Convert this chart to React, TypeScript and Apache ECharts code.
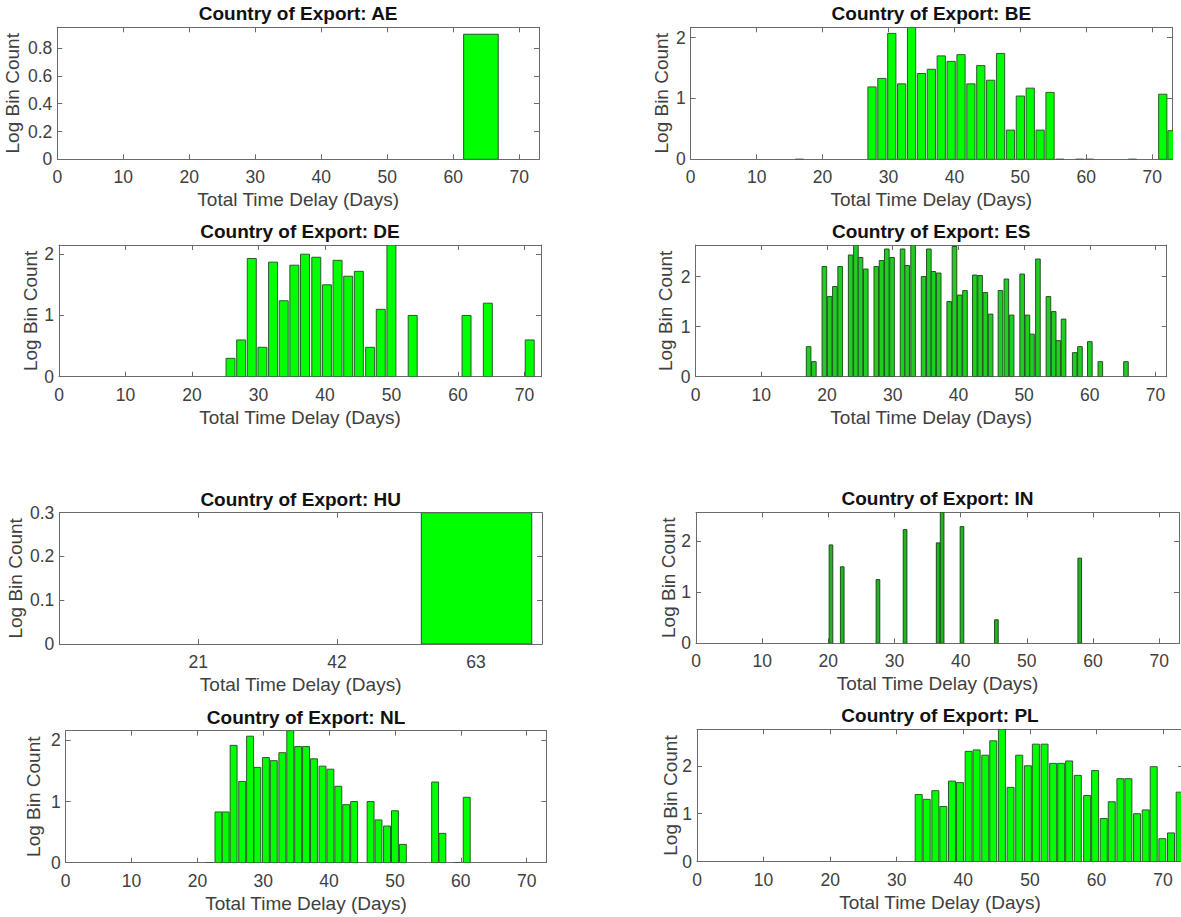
import React, { useEffect, useRef } from 'react';
import * as echarts from 'echarts';

// ---------------- data ----------------
const panelTitles = [
  'Country of Export: AE',
  'Country of Export: BE',
  'Country of Export: DE',
  'Country of Export: ES',
  'Country of Export: HU',
  'Country of Export: IN',
  'Country of Export: NL',
  'Country of Export: PL',
];

const xAxisTitle = 'Total Time Delay (Days)';
const yAxisTitle = 'Log Bin Count';

// bin centres (days) and log10 bin counts
const aeCenters = [64.2];
const aeValues = [0.9];

const beCenters = [16.5, 27.5, 29, 30.5, 32, 33.5, 35, 36.5, 38, 39.5, 41, 42.5, 44, 45.5, 47, 48.5, 50, 51.5, 53, 54.5, 56, 59, 60.5, 67, 71.6, 73];
const beValues = [0, 1.19, 1.33, 2.07, 1.24, 2.17, 1.41, 1.48, 1.70, 1.61, 1.72, 1.24, 1.54, 1.30, 1.74, 0.48, 1.04, 1.17, 0.48, 1.10, 0, 0, 0, 0, 1.07, 0.47];

const deCenters = [25.8, 27.4, 29.0, 30.6, 32.2, 33.8, 35.4, 37.0, 38.7, 40.3, 41.9, 43.5, 45.1, 46.8, 48.4, 50.0, 53.2, 61.3, 64.5, 70.8];
const deValues = [0.30, 0.60, 1.93, 0.48, 1.87, 1.24, 1.82, 2.00, 1.95, 1.50, 1.90, 1.64, 1.72, 0.48, 1.10, 2.15, 1.00, 1.00, 1.20, 0.60];

const esCenters = [17.2, 18.0, 19.6, 20.4, 21.2, 22.0, 23.6, 24.4, 25.1, 25.9, 27.5, 28.3, 29.1, 29.9, 31.5, 32.2, 33.1, 34.7, 35.5, 36.2, 37.0, 38.6, 39.4, 40.2, 41.0, 42.5, 43.3, 44.1, 44.9, 46.4, 47.3, 48.1, 49.7, 50.5, 51.2, 52.1, 53.7, 54.5, 55.2, 56.0, 57.7, 58.5, 60.0, 61.6, 65.5];
const esValues = [0.6, 0.3, 2.2, 1.6, 1.8, 2.2, 2.43, 2.63, 2.38, 2.15, 2.2, 2.32, 2.55, 2.38, 2.55, 2.22, 2.63, 2.0, 2.55, 2.1, 2.07, 1.5, 2.6, 1.63, 1.72, 2.03, 2.02, 1.68, 1.25, 1.72, 1.95, 1.23, 2.05, 1.23, 0.85, 2.35, 1.6, 1.3, 0.72, 1.15, 0.48, 0.6, 0.7, 0.3, 0.3];

const huCenters = [63.1];
const huValues = [0.3];

const inCenters = [20.4, 22.1, 27.5, 31.6, 36.6, 37.2, 40.2, 45.4, 58.0];
const inValues = [1.93, 1.50, 1.25, 2.23, 1.97, 2.57, 2.29, 0.46, 1.67];

const nlCenters = [21.8, 23.2, 24.3, 25.5, 26.8, 28.0, 29.1, 30.4, 31.6, 32.9, 34.1, 35.3, 36.5, 37.7, 39.0, 40.2, 41.4, 42.6, 43.8, 46.3, 47.5, 48.8, 50.0, 51.2, 56.1, 57.2, 59.5, 60.9];
const nlValues = [0, 0.83, 0.83, 1.92, 1.33, 2.07, 1.56, 1.72, 1.67, 1.80, 2.16, 1.90, 1.90, 1.70, 1.58, 1.53, 1.25, 0.95, 1.00, 1.00, 0.70, 0.60, 0.85, 0.30, 1.32, 0.48, 0, 1.07];

const plCenters = [33.3, 34.5, 35.8, 37.0, 38.3, 39.5, 40.8, 42.0, 43.3, 44.5, 45.8, 47.1, 48.4, 49.7, 50.9, 52.2, 53.5, 54.7, 55.9, 57.2, 58.6, 59.8, 61.1, 62.3, 63.6, 64.8, 66.1, 67.4, 68.6, 69.9, 71.2, 72.5];
const plValues = [1.40, 1.30, 1.48, 1.15, 1.68, 1.65, 2.30, 2.33, 2.22, 2.52, 2.76, 1.55, 2.22, 2.00, 2.45, 2.45, 2.05, 2.05, 2.10, 1.80, 1.38, 1.90, 0.90, 1.25, 1.73, 1.73, 1.00, 1.08, 1.98, 0.48, 0.60, 1.45];

const allCenters = [aeCenters, beCenters, deCenters, esCenters, huCenters, inCenters, nlCenters, plCenters];
const allValues = [aeValues, beValues, deValues, esValues, huValues, inValues, nlValues, plValues];

// axis ranges per panel
const xMaxes = [73, 73, 72.5, 71.7, 73, 73, 73, 73];
const yMaxes = [0.95, 2.17, 2.15, 2.63, 0.3, 2.57, 2.16, 2.76];
const xSteps = [10, 10, 10, 10, 21, 10, 10, 10];
const ySteps = [0.2, 1, 1, 1, 0.1, 1, 1, 1];

// ---------------- layout / style ----------------
const layouts = [
  { left: 57.3, right: 539, top: 27.3, bottom: 159.3, barW: 5.24, yGap: 35, fill: '#00ff00', stroke: '#2d4d2d' },
  { left: 690.7, right: 1172, top: 27.3, bottom: 159.3, barW: 1.25, yGap: 20, fill: '#00ff00', stroke: '#2d5a2d' },
  { left: 59, right: 541, top: 245, bottom: 376.7, barW: 1.35, yGap: 19, fill: '#00ff00', stroke: '#2d5a2d' },
  { left: 695.6, right: 1166.7, top: 245, bottom: 376.7, barW: 0.7, yGap: 21, fill: '#1fcf1f', stroke: '#245224' },
  { left: 59.3, right: 542, top: 512.7, bottom: 644, barW: 16.7, yGap: 34.5, fill: '#00ff00', stroke: '#2d4d2d' },
  { left: 696, right: 1179, top: 512.3, bottom: 643.3, barW: 0.55, yGap: 18, fill: '#22b422', stroke: '#1f4a1f' },
  { left: 65.7, right: 546.4, top: 730.7, bottom: 862.7, barW: 1.05, yGap: 23, fill: '#00ff00', stroke: '#2d5a2d' },
  { left: 697, right: 1183, top: 729.3, bottom: 861.7, barW: 1.05, yGap: 17, fill: '#00ff00', stroke: '#2d5a2d' },
];

const FONT = "'Liberation Sans', Arial, Helvetica, sans-serif";
const AXIS_COLOR = '#6a6a6a';
const TEXT_COLOR = '#404040';

const isMultiple = (v: number, step: number) => {
  const r = v / step;
  return Math.abs(r - Math.round(r)) < 1e-6;
};
const fmt = (v: number) => String(parseFloat(v.toFixed(4)));

function buildOption() {
  const grid: any[] = [];
  const xAxis: any[] = [];
  const yAxis: any[] = [];
  const series: any[] = [];
  const title: any[] = [];

  layouts.forEach((L, i) => {
    const xMax = xMaxes[i];
    const yMax = yMaxes[i];
    const xStep = xSteps[i];
    const yStep = ySteps[i];
    const hideZeroX = xStep !== 10;

    grid.push({
      left: L.left,
      top: L.top,
      width: L.right - L.left,
      height: L.bottom - L.top,
      containLabel: false,
      outerBoundsMode: 'none',
      show: false,
    });

    title.push({
      text: panelTitles[i],
      left: (L.left + Math.min(L.right, 1181 + (L.right - 1181))) / 2,
      top: L.top - 23,
      textAlign: 'center',
      padding: 0,
      textStyle: { fontFamily: FONT, fontSize: 19, fontWeight: 'bold', color: '#111' },
    });

    const tickCommon = { show: true, inside: true, length: 5, lineStyle: { color: AXIS_COLOR, width: 1 } };
    const lineCommon = { show: true, onZero: false, lineStyle: { color: AXIS_COLOR, width: 1 } };

    xAxis.push({
      type: 'value',
      gridIndex: i,
      position: 'bottom',
      min: 0,
      max: xMax,
      interval: xStep,
      axisLine: lineCommon,
      axisTick: tickCommon,
      splitLine: { show: false },
      axisLabel: {
        margin: 9,
        fontFamily: FONT,
        fontSize: 17.5,
        color: TEXT_COLOR,
        formatter: (v: number) => (isMultiple(v, xStep) && !(hideZeroX && v === 0) ? fmt(v) : ''),
      },
      name: xAxisTitle,
      nameLocation: 'middle',
      nameGap: 31,
      nameMoveOverlap: false,
      nameTextStyle: { fontFamily: FONT, fontSize: 19, color: TEXT_COLOR },
    });
    xAxis.push({
      type: 'value',
      gridIndex: i,
      position: 'top',
      min: 0,
      max: xMax,
      interval: xStep,
      axisLine: lineCommon,
      axisTick: tickCommon,
      splitLine: { show: false },
      axisLabel: { show: false },
    });

    yAxis.push({
      type: 'value',
      gridIndex: i,
      position: 'left',
      min: 0,
      max: yMax,
      interval: yStep,
      axisLine: lineCommon,
      axisTick: tickCommon,
      splitLine: { show: false },
      axisLabel: {
        margin: 5,
        fontFamily: FONT,
        fontSize: 17.5,
        color: TEXT_COLOR,
        formatter: (v: number) => (isMultiple(v, yStep) ? fmt(v) : ''),
      },
      name: yAxisTitle,
      nameLocation: 'middle',
      nameRotate: 90,
      nameGap: L.yGap,
      nameMoveOverlap: false,
      nameTextStyle: { fontFamily: FONT, fontSize: 19, color: TEXT_COLOR },
    });
    yAxis.push({
      type: 'value',
      gridIndex: i,
      position: 'right',
      min: 0,
      max: yMax,
      interval: yStep,
      axisLine: lineCommon,
      axisTick: tickCommon,
      splitLine: { show: false },
      axisLabel: { show: false },
    });

    const w = L.barW;
    const fill = L.fill;
    const stroke = L.stroke;
    series.push({
      type: 'custom',
      xAxisIndex: 2 * i,
      yAxisIndex: 2 * i,
      clip: true,
      encode: { x: 0, y: 1 },
      data: allCenters[i].map((c, k) => [c, allValues[i][k]]),
      renderItem: (_params: any, api: any) => {
        const c = api.value(0) as number;
        const v = api.value(1) as number;
        const a = api.coord([c - w / 2, v]);
        const b = api.coord([c + w / 2, 0]);
        return {
          type: 'rect',
          shape: { x: a[0], y: a[1], width: b[0] - a[0], height: b[1] - a[1] },
          style: { fill, stroke, lineWidth: 1 },
        };
      },
    });
  });

  return {
    animation: false,
    backgroundColor: '#ffffff',
    title,
    grid,
    xAxis,
    yAxis,
    series,
  };
}

export default function App() {
  const ref = useRef<HTMLDivElement>(null);
  useEffect(() => {
    if (!ref.current) return;
    const chart = echarts.init(ref.current, undefined, { renderer: 'svg' });
    chart.setOption(buildOption() as any);
    return () => {
      chart.dispose();
    };
  }, []);
  return (
    <div
      ref={ref}
      style={{ position: 'fixed', left: 0, top: 0, width: 1181, height: 917, background: '#fff' }}
    />
  );
}
